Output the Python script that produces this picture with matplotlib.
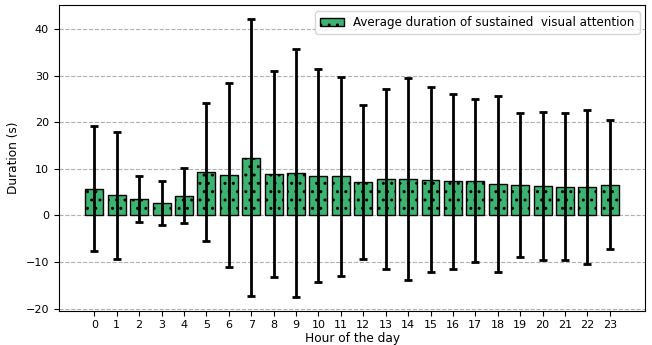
import numpy as np
import matplotlib.pyplot as plt

hours = list(range(24))
mean_duration = [5.7, 4.35, 3.6, 2.7, 4.2, 9.3, 8.7, 12.4, 8.9, 9.1, 8.5, 8.4,
                 7.2, 7.8, 7.8, 7.7, 7.3, 7.45, 6.8, 6.5, 6.3, 6.2, 6.15, 6.6]
std_duration = [13.4, 13.6, 4.9, 4.7, 5.9, 14.7, 19.7, 29.7, 22.0, 26.5, 22.8, 21.3,
                16.5, 19.2, 21.7, 19.9, 18.7, 17.45, 18.9, 15.45, 15.8, 15.8, 16.5, 13.85]

plt.rcParams['font.size'] = 8.7
plt.rcParams['hatch.linewidth'] = 1.0
fig, ax = plt.subplots(figsize=(6.52, 3.45), dpi=100)
ax.set_axisbelow(True)
ax.yaxis.grid(True, linestyle='--', color='#b0b0b0', linewidth=0.8)
ax.bar(hours, mean_duration, yerr=std_duration, color='mediumseagreen', edgecolor='black',
       linewidth=1, hatch='..', capsize=3,
       error_kw=dict(elinewidth=2, capthick=2, ecolor='black'),
       label='Average duration of sustained  visual attention')
ax.set_xticks(hours)
ax.tick_params(labelsize=8)
ax.set_xlabel('Hour of the day', labelpad=1)
ax.set_ylabel('Duration (s)')
ax.legend(loc='upper right', fontsize=8.6)
fig.subplots_adjust(left=0.09, right=0.99, top=0.985, bottom=0.1)
fig.savefig('out.png')
